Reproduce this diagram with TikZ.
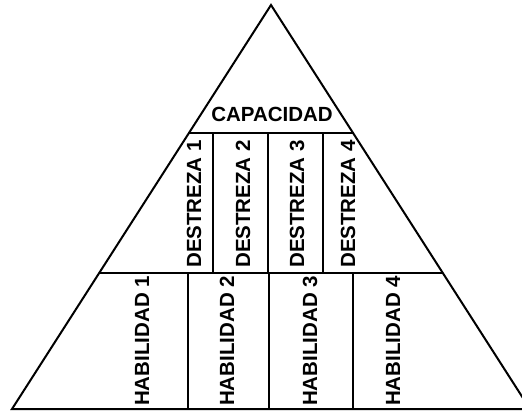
\documentclass[tikz,border=0pt]{standalone}
\usepackage{fontspec}
\setmainfont{Liberation Sans}
\usepackage{tikz}
\usetikzlibrary{calc}
\tikzset{lbl/.style={font=\bfseries\fontsize{20.5}{24}\selectfont, inner sep=0pt}}

\begin{document}
\begin{tikzpicture}[x=1pt, y=-1pt]
\tikzstyle{wall} = [line width=2pt, line join=miter]
\tikzstyle{vlbl} = [lbl, rotate=90]
\clip (0, 0) rectangle (522, 412);
\coordinate (top) at (271, 5);
\coordinate (bl) at (12, 409);
\coordinate (br) at (530, 409);
\draw[wall] (top) -- (bl) -- (br) -- cycle;
\draw[wall] (189, 133) -- (353, 133);
\draw[wall] (99, 273) -- (443, 273);
\foreach \x in {213, 268, 323} {
  \draw[wall] (\x, 133) -- (\x, 273);
}
\foreach \x in {188, 269, 353} {
  \draw[wall] (\x, 273) -- (\x, 409);
}
\node[lbl](cap) at (272, 114){CAPACIDAD};
\node[vlbl](d1) at (194, 204){DESTREZA 1};
\node[vlbl](d2) at (243, 204){DESTREZA 2};
\node[vlbl](d3) at (297, 204){DESTREZA 3};
\node[vlbl](d4) at (348, 204){DESTREZA 4};
\node[vlbl](h1) at (142, 341){HABILIDAD 1};
\node[vlbl](h2) at (227, 341){HABILIDAD 2};
\node[vlbl](h3) at (310, 341){HABILIDAD 3};
\node[vlbl](h4) at (393, 341){HABILIDAD 4};
\end{tikzpicture}
\end{document}
